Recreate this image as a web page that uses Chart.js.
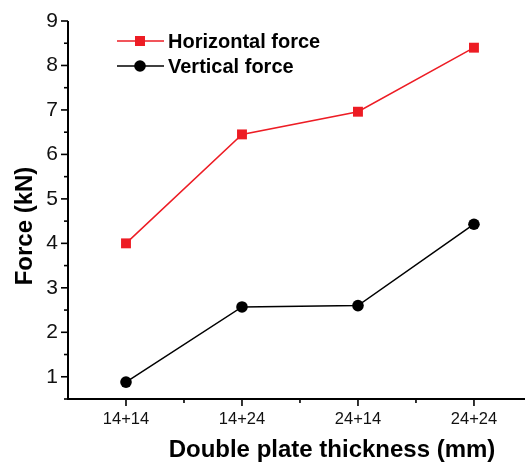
<!DOCTYPE html>
<html>
<head>
<meta charset="utf-8">
<script src="https://cdn.jsdelivr.net/npm/chart.js@4/dist/chart.umd.min.js"></script>
<style>
  html, body { margin: 0; padding: 0; background: #fff; }
  #wrap { width: 525px; height: 464px; }
</style>
</head>
<body>
<div id="wrap"><canvas id="myChart" width="525" height="464"></canvas></div>
<script>
// data
let categories = ['14+14', '14+24', '24+14', '24+24'];
let horizontalForce = [4.0, 6.45, 6.96, 8.4];
let verticalForce = [0.88, 2.57, 2.6, 4.43];
let yTicks = [1, 2, 3, 4, 5, 6, 7, 8, 9];

const FONT = '"Liberation Sans", Arial, sans-serif';
const xTitle = 'Double plate thickness (mm)';
const yTitle = 'Force (kN)';

function toPoints(values) {
  return values.map((v, i) => ({ x: i + 1, y: v }));
}

// axis lines and outward ticks (major + minor), drawn from the scales
const axisTicks = {
  id: 'axisTicks',
  afterDraw(chart) {
    const ctx = chart.ctx;
    const xs = chart.scales.x, ys = chart.scales.y;
    const left = xs.left, bottom = ys.bottom;
    ctx.save();
    ctx.strokeStyle = '#000';
    ctx.lineWidth = 2;
    ctx.beginPath();
    ctx.moveTo(left, ys.top);
    ctx.lineTo(left, bottom);
    ctx.lineTo(xs.right + 2, bottom);
    ctx.stroke();
    ctx.lineWidth = 1.6;
    ys.ticks.forEach(t => {
      const y = ys.getPixelForValue(t.value);
      const len = Number.isInteger(t.value) ? 7 : 4;
      ctx.beginPath();
      ctx.moveTo(left, y);
      ctx.lineTo(left - len, y);
      ctx.stroke();
    });
    xs.ticks.forEach(t => {
      const x = xs.getPixelForValue(t.value);
      const len = Number.isInteger(t.value) ? 7 : 4;
      ctx.beginPath();
      ctx.moveTo(x, bottom);
      ctx.lineTo(x, bottom + len);
      ctx.stroke();
    });
    ctx.restore();
  }
};

// axis titles sit off-centre in the original, so they are placed by hand
const axisTitles = {
  id: 'axisTitles',
  afterDraw(chart) {
    const ctx = chart.ctx;
    ctx.save();
    ctx.fillStyle = '#000';
    ctx.font = 'bold 24px ' + FONT;
    ctx.textAlign = 'center';
    ctx.textBaseline = 'alphabetic';
    ctx.fillText(xTitle, 332, 457);
    ctx.translate(32, 226);
    ctx.rotate(-Math.PI / 2);
    ctx.fillText(yTitle, 0, 0);
    ctx.restore();
  }
};

// legend inside the plot, top left
const insideLegend = {
  id: 'insideLegend',
  afterDraw(chart) {
    const ctx = chart.ctx;
    ctx.save();
    ctx.font = 'bold 20px ' + FONT;
    ctx.textBaseline = 'middle';
    chart.data.datasets.forEach((ds, i) => {
      const y = 41 + i * 25;
      ctx.strokeStyle = ds.borderColor;
      ctx.lineWidth = 1.5;
      ctx.beginPath();
      ctx.moveTo(117, y);
      ctx.lineTo(164, y);
      ctx.stroke();
      ctx.fillStyle = ds.backgroundColor;
      if (ds.pointStyle === 'rect') {
        ctx.fillRect(135, y - 5, 10, 10);
      } else {
        ctx.beginPath();
        ctx.arc(140, y, 5.8, 0, Math.PI * 2);
        ctx.fill();
      }
      ctx.fillStyle = '#000';
      ctx.fillText(ds.label, 168, y + 1);
    });
    ctx.restore();
  }
};

let myChart = document.getElementById('myChart').getContext('2d');

let forceChart = new Chart(myChart, {
  type: 'line',
  data: {
    datasets: [{
      label: 'Horizontal force',
      data: toPoints(horizontalForce),
      borderColor: '#ED1C24',
      backgroundColor: '#ED1C24',
      borderWidth: 1.5,
      pointStyle: 'rect',
      pointRadius: 7,
      pointBorderWidth: 0
    }, {
      label: 'Vertical force',
      data: toPoints(verticalForce),
      borderColor: '#000',
      backgroundColor: '#000',
      borderWidth: 1.5,
      pointStyle: 'circle',
      pointRadius: 5.8,
      pointBorderWidth: 0
    }]
  },
  options: {
    responsive: false,
    animation: false,
    layout: { autoPadding: false, padding: { top: 21, right: 0, left: 0, bottom: 0 } },
    plugins: {
      legend: { display: false },
      tooltip: { enabled: false }
    },
    scales: {
      x: {
        type: 'linear',
        min: 0.5,
        max: 4.44,
        afterBuildTicks: s => {
          const t = [];
          for (let v = 1; v <= 4; v += 0.5) t.push({ value: v });
          s.ticks = t;
        },
        afterFit: s => { s.height = 65; s.paddingLeft = 0; s.paddingRight = 0; },
        grid: { display: false, drawTicks: false },
        border: { display: false },
        ticks: {
          autoSkip: false,
          maxRotation: 0,
          padding: 11,
          color: '#111',
          font: { family: FONT, size: 16.5 },
          callback: v => Number.isInteger(v) ? categories[v - 1] : ''
        },
        title: { display: false }
      },
      y: {
        min: 0.5,
        max: 9,
        afterBuildTicks: s => {
          const t = [];
          for (let v = 0.5; v <= 9; v += 0.5) t.push({ value: v });
          s.ticks = t;
        },
        afterFit: s => { s.width = 68; s.paddingTop = 0; s.paddingBottom = 0; },
        grid: { display: false, drawTicks: false },
        border: { display: false },
        ticks: {
          autoSkip: false,
          padding: 10,
          color: '#111',
          font: { family: FONT, size: 21 },
          callback: v => yTicks.includes(v) ? String(v) : ''
        },
        title: { display: false }
      }
    }
  },
  plugins: [axisTicks, axisTitles, insideLegend]
});
</script>
</body>
</html>
